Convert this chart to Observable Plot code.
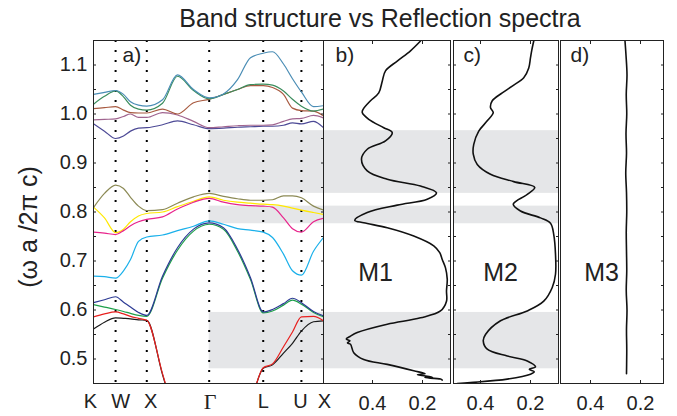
<!DOCTYPE html>
<html><head><meta charset="utf-8">
<script src="https://cdn.jsdelivr.net/npm/d3@7"></script>
<script src="https://cdn.jsdelivr.net/npm/@observablehq/plot@0.6"></script>
<style>
body{margin:0;background:#fff;}
#chart{position:relative;width:677px;height:416px;font-family:"Liberation Sans",Arial,sans-serif;color:#222;}
#chart svg{position:absolute;top:0;overflow:visible;}
#title{position:absolute;left:0;width:760px;text-align:center;top:3px;font-size:25px;line-height:30px;color:#222;}
</style></head><body>
<div id="chart"><div id="title">Band structure vs Reflection spectra</div></div>
<script>
// ---- high-symmetry path ----
const symLabels = ["K","W","X","Γ","L","U","X"];
const symK = [0, 0.354, 0.854, 1.854, 2.720, 3.332, 3.686];
const kGrid = [0, 0.176, 0.354, 0.481, 0.593, 0.721, 0.854, 1.106, 1.346, 1.603, 1.854,
               2.083, 2.308, 2.516, 2.720, 2.869, 3.045, 3.189, 3.332, 3.526, 3.686];

// ---- bands (ω a / 2πc at kGrid) ----
const bandBlack   = [0.561,0.575,0.584,0.583,0.582,0.580,0.579,0.468,0.365,0.256,0.10,0.20,0.34,0.41,0.481,0.488,0.512,0.532,0.557,0.576,0.578];
const bandRed     = [0.586,0.592,0.596,0.592,0.587,0.583,0.579,0.470,0.367,0.258,0.10,0.20,0.34,0.41,0.482,0.490,0.525,0.555,0.586,0.587,0.578];
const bandGreen2  = [0.611,0.606,0.601,0.597,0.593,0.589,0.587,0.665,0.722,0.761,0.775,0.765,0.720,0.662,0.594,0.598,0.610,0.620,0.612,0.595,0.586];
const bandNavy    = [0.615,0.621,0.627,0.616,0.606,0.595,0.589,0.669,0.727,0.765,0.778,0.768,0.724,0.666,0.596,0.601,0.613,0.624,0.615,0.597,0.588];
const bandCyan    = [0.669,0.668,0.665,0.680,0.703,0.740,0.749,0.753,0.762,0.771,0.782,0.775,0.766,0.763,0.759,0.748,0.714,0.680,0.671,0.720,0.748];
const bandMagenta = [0.759,0.757,0.754,0.762,0.772,0.780,0.785,0.790,0.806,0.820,0.828,0.820,0.815,0.813,0.812,0.810,0.788,0.766,0.759,0.780,0.787];
const bandYellow  = [0.810,0.788,0.758,0.765,0.780,0.792,0.797,0.800,0.811,0.822,0.831,0.824,0.820,0.818,0.816,0.815,0.812,0.808,0.804,0.799,0.795];
const bandOlive   = [0.809,0.838,0.855,0.848,0.830,0.812,0.803,0.805,0.818,0.831,0.838,0.832,0.827,0.824,0.824,0.825,0.833,0.833,0.829,0.812,0.804];
const bandPurple  = [0.980,0.965,0.950,0.955,0.965,0.971,0.972,0.978,0.986,0.978,0.970,0.971,0.973,0.974,0.975,0.975,0.977,0.982,0.980,0.985,0.972];
const bandMauve   = [0.988,0.989,0.990,0.995,1.000,0.993,0.993,1.003,0.998,0.985,0.972,0.974,0.976,0.977,0.977,0.978,0.985,0.990,0.991,0.997,0.992];
const bandBrown   = [1.011,1.013,1.015,1.008,1.003,1.002,1.002,1.010,1.000,1.023,1.030,1.040,1.050,1.058,1.058,1.054,1.040,1.012,1.007,1.006,0.996];
const bandGreen   = [1.020,1.036,1.047,1.035,1.018,1.010,1.008,1.022,1.077,1.048,1.031,1.040,1.050,1.060,1.061,1.059,1.047,1.030,1.016,1.006,1.010];
const bandTeal    = [1.040,1.044,1.048,1.040,1.025,1.018,1.016,1.029,1.080,1.050,1.033,1.041,1.070,1.115,1.124,1.127,1.102,1.072,1.045,1.015,1.017];

const bandList   = [bandBlack, bandRed, bandGreen2, bandNavy, bandCyan, bandYellow, bandMagenta, bandOlive, bandPurple, bandMauve, bandBrown, bandGreen, bandTeal];
const bandColors = ["#1a1a1a","#e8201e","#1ea04a","#2c3a94","#1ab0ea","#ffe800","#e8248c","#8c8a55","#4d4a96","#a0648f","#a85a40","#3a8c5c","#4a8db5"];

// ---- photonic gaps ----
const gapLow  = [0.480, 0.776, 0.838];
const gapHigh = [0.595, 0.812, 0.966];

// ---- reflection spectra ----
const m1R = [0.208,0.248,0.301,0.348,0.361,0.375,0.408,0.437,0.441,0.415,0.355,0.321,0.348,0.421,0.444,0.421,0.341,0.208,0.144,0.181,0.301,0.421,0.471,0.435,0.341,0.235,0.155,0.131,0.121,0.108,0.101,0.104,0.104,0.128,0.208,0.341,0.461,0.490,0.505,0.490,0.500,0.488,0.475,0.435,0.341,0.235,0.190,0.220,0.160,0.190,0.128,0.121];
const m1W = [1.149,1.129,1.108,1.088,1.067,1.043,1.027,1.010,1.003,0.989,0.972,0.962,0.945,0.928,0.908,0.884,0.867,0.853,0.839,0.826,0.814,0.799,0.783,0.778,0.768,0.751,0.731,0.717,0.703,0.686,0.663,0.639,0.618,0.598,0.584,0.571,0.554,0.546,0.541,0.537,0.533,0.530,0.513,0.499,0.489,0.476,0.470,0.468,0.463,0.462,0.459,0.457];
const m2R = [0.187,0.195,0.200,0.207,0.227,0.273,0.313,0.353,0.360,0.349,0.373,0.407,0.427,0.429,0.413,0.360,0.267,0.183,0.213,0.269,0.240,0.160,0.120,0.107,0.100,0.100,0.113,0.147,0.213,0.320,0.380,0.389,0.373,0.293,0.213,0.180,0.205,0.185,0.200,0.293,0.440,0.493];
const m2W = [1.149,1.130,1.115,1.094,1.074,1.057,1.043,1.027,1.013,1.003,0.986,0.965,0.938,0.918,0.897,0.877,0.862,0.850,0.836,0.816,0.802,0.788,0.777,0.754,0.714,0.673,0.646,0.618,0.598,0.578,0.550,0.537,0.520,0.506,0.496,0.484,0.479,0.474,0.469,0.459,0.452,0.450];
const m3R = [0.262,0.258,0.254,0.257,0.255,0.258,0.256,0.259,0.256,0.255,0.257,0.256,0.255,0.257,0.254,0.256,0.255,0.256];
const m3W = [1.149,1.120,1.080,1.040,1.000,0.960,0.920,0.880,0.840,0.800,0.760,0.720,0.680,0.640,0.600,0.560,0.520,0.470];

// ---- ticks ----
const yTicks = [0.5,0.6,0.7,0.8,0.9,1.0,1.1];
const yMinor = d3.range(10, 23).map(i => i * 0.05);
const rTicks = [0.4, 0.2];
const sampleLabels = ["M1","M2","M3"];
const panelLabels = ["a)","b)","c)","d)"];

// ---- build tables ----
const gaps = gapLow.map((lo, i) => ({lo, hi: gapHigh[i]}));
const zip = (xs, ys) => xs.map((x, i) => ({x, y: ys[i]}));

const FONT = "Liberation Sans, Arial, sans-serif";
const yDomain = [0.45, 1.15];
const H = 416, MT = 40, MB = 33;
const GRAY = "#e5e6e8";
const common = {height: H, marginTop: MT, marginBottom: MB,
  style: {background: "transparent", overflow: "visible", fontFamily: FONT, color: "#222"}};

function place(svg, left) { svg.style.left = left + "px"; document.getElementById("chart").appendChild(svg); }

const yInner = (side) => Plot.axisY(yMinor, {anchor: side, tickSize: 3, dx: side === "left" ? 3 : -3, tickFormat: () => "", label: null});
const fmt1 = d3.format(".1f");

// k-label helper: one axis per label so each can carry its own nudge / font
const kLabel = (i, dx, serif) => Plot.axisX([symK[i]], {anchor: "bottom", tickSize: 0, tickPadding: 10, dx,
  fontSize: serif ? 22 : 20, fontFamily: serif ? "Liberation Serif, Times New Roman, serif" : FONT,
  tickFormat: () => symLabels[i], label: null});

// Panel a: band structure
const gammaK = symK[3], endK = symK[6];
const panelA = Plot.plot({
  ...common, width: 326, marginLeft: 93, marginRight: 3,
  x: {domain: [0, endK]}, y: {domain: yDomain},
  marks: [
    Plot.rect(gaps, {x1: () => gammaK, x2: () => endK, y1: "lo", y2: "hi", fill: GRAY}),
    Plot.ruleX(symK.slice(1, 6), {stroke: "#000", strokeWidth: 2, strokeDasharray: "2,8"}),
    ...bandList.map((b, i) => Plot.line(zip(kGrid, b), {x: "x", y: "y", stroke: bandColors[i], strokeWidth: 1.2, curve: "monotone-x", clip: true})),
    Plot.frame({stroke: "#222"}),
    Plot.axisY(yTicks, {anchor: "left", tickSize: 0, tickPadding: 6, fontSize: 20, tickFormat: fmt1, label: null}),
    yInner("left"), yInner("right"),
    kLabel(0, -3), kLabel(1, 5), kLabel(2, 4), kLabel(3, 1, true), kLabel(4, 0), kLabel(5, -1), kLabel(6, 1),
    Plot.text([panelLabels[0]], {text: d => d, frameAnchor: "top-left", dx: 29, dy: 7, textAnchor: "start", lineAnchor: "top", fontSize: 21}),
    Plot.text(["(ω a /2π c)"], {text: d => d, frameAnchor: "left", dx: -65, dy: 15, rotate: -90, fontSize: 25, textAnchor: "middle", lineAnchor: "middle"})
  ]
});
place(panelA, 0);

function spectrum(idx, left, width, xDomain, R, W, withGap, labelDx, mDx) {
  const svg = Plot.plot({
    ...common, width, marginLeft: 3, marginRight: 3,
    x: {domain: xDomain}, y: {domain: yDomain},
    marks: [
      withGap ? Plot.rect(gaps, {y1: "lo", y2: "hi", fill: GRAY}) : null,
      Plot.line(zip(R, W), {x: "x", y: "y", stroke: "#111", strokeWidth: 1.6, curve: "catmull-rom", clip: true}),
      Plot.frame({stroke: "#222"}),
      yInner("right"), idx === 2 ? yInner("left") : null,
      Plot.axisX(rTicks, {anchor: "bottom", tickSize: 3, dy: -3, tickFormat: () => "", label: null}),
      Plot.axisX(rTicks, {anchor: "top", tickSize: 3, dy: 3, tickFormat: () => "", label: null}),
      Plot.axisX(rTicks, {anchor: "bottom", tickSize: 0, tickPadding: 12, fontSize: 20, tickFormat: fmt1, label: null}),
      Plot.text([panelLabels[idx]], {text: d => d, frameAnchor: "top-left", dx: labelDx, dy: 7, textAnchor: "start", lineAnchor: "top", fontSize: 21}),
      Plot.text([sampleLabels[idx - 1]], {text: d => d, frameAnchor: "top-left", dx: mDx, dy: 232, textAnchor: "middle", lineAnchor: "middle", fontSize: 25})
    ]
  });
  place(svg, left);
}
spectrum(1, 320, 133, [0.596, 0.088], m1R, m1W, true, 12, 52);
spectrum(2, 450, 111, [0.508, 0.088], m2R, m2W, true, 10, 47);
spectrum(3, 557, 109, [0.520, 0.108], m3R, m3W, false, 10, 41);
</script>
</body></html>
